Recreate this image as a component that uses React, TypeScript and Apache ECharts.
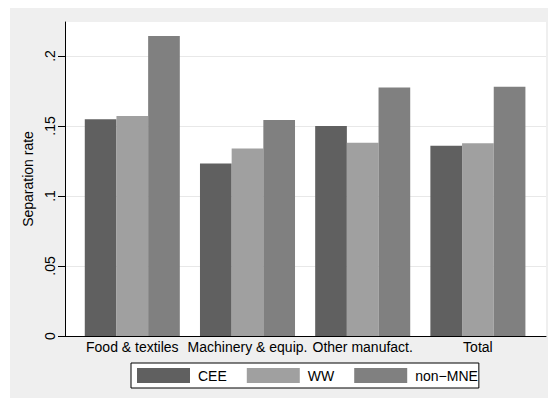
import React, { useEffect, useRef } from "react";
import * as echarts from "echarts";

const categories = ["Food & textiles", "Machinery & equip.", "Other manufact.", "Total"];
const seriesNames = ["CEE", "WW", "non\u2212MNE"];
const ceeValues = [0.1548, 0.1233, 0.150, 0.1359];
const wwValues = [0.1571, 0.134, 0.1381, 0.1376];
const nonMneValues = [0.2143, 0.1543, 0.1776, 0.1781];
const yTicks = [0, 0.05, 0.1, 0.15, 0.2];
const yTickLabels = ["0", ".05", ".1", ".15", ".2"];
const colors = ["#606060", "#a0a0a0", "#808080"];

const FONT = "Liberation Sans, Arial, sans-serif";

export default function App() {
  const ref = useRef<HTMLDivElement>(null);
  useEffect(() => {
    if (!ref.current) return;
    const chart = echarts.init(ref.current, null, { renderer: "svg" });
    const yMax = 0.2243;
    const values = [ceeValues, wwValues, nonMneValues];
    chart.setOption({
      animation: false,
      backgroundColor: "#ffffff",
      textStyle: { fontFamily: FONT },
      graphic: [
        {
          type: "rect",
          shape: { x: 10, y: 8, width: 538, height: 390 },
          style: { fill: "#efefef" },
          z: -10,
          silent: true,
        },
      ],
      grid: [
        {
          left: 65,
          top: 22,
          width: 481,
          height: 314,
          show: true,
          backgroundColor: "#ffffff",
          borderWidth: 0,
          z: 0,
        },
        {
          left: 74.7,
          top: 22,
          width: 460.8,
          height: 314,
          show: false,
        },
      ],
      xAxis: [
        {
          gridIndex: 0,
          type: "value",
          min: 0,
          max: 1,
          axisLine: { show: true, lineStyle: { color: "#000", width: 1 } },
          axisTick: { show: false },
          axisLabel: { show: false },
          splitLine: { show: false },
        },
        {
          gridIndex: 1,
          type: "category",
          data: categories,
          axisLine: { show: false },
          axisTick: { show: false },
          axisLabel: { color: "#000", fontSize: 14, fontFamily: FONT, margin: 4, interval: 0 },
          splitLine: { show: false },
        },
      ],
      yAxis: [
        {
          gridIndex: 0,
          type: "value",
          min: 0,
          max: yMax,
          name: "Separation rate",
          nameLocation: "middle",
          nameRotate: 90,
          nameGap: 21,
          nameTextStyle: { color: "#000", fontSize: 14, fontFamily: FONT },
          axisLine: { show: true, lineStyle: { color: "#000", width: 1 } },
          axisTick: {
            show: true,
            length: 7,
            lineStyle: { color: "#000" },
            customValues: yTicks,
          },
          axisLabel: {
            color: "#000",
            fontSize: 14,
            fontFamily: FONT,
            rotate: 90,
            margin: 8,
            customValues: yTicks,
            formatter: (v: number) => {
              const i = yTicks.findIndex((t) => Math.abs(t - v) < 1e-9);
              return i >= 0 ? yTickLabels[i] : "";
            },
          },
          splitLine: { show: true, lineStyle: { color: "#e8e8e8", width: 1 } },
        },
        {
          gridIndex: 1,
          type: "value",
          min: 0,
          max: yMax,
          show: false,
          splitLine: { show: false },
        },
      ],
      legend: {
        left: 131,
        top: 363,
        orient: "horizontal",
        itemWidth: 53,
        itemHeight: 15,
        itemGap: 20,
        padding: [5, 1, 5, 6],
        borderColor: "#000",
        borderWidth: 1,
        backgroundColor: "#ffffff",
        icon: "rect",
        textStyle: { color: "#000", fontSize: 14, fontFamily: FONT, padding: [0, 0, 0, 3] },
        data: seriesNames,
      },
      series: seriesNames.map((name, i) => ({
        name,
        type: "bar",
        xAxisIndex: 1,
        yAxisIndex: 1,
        data: values[i],
        barGap: "0%",
        barCategoryGap: "17.5%",
        itemStyle: { color: colors[i] },
        z: 3,
      })),
    });
    return () => chart.dispose();
  }, []);
  return (
    <div
      ref={ref}
      style={{ position: "absolute", left: 0, top: 0, width: 549, height: 401 }}
    />
  );
}
